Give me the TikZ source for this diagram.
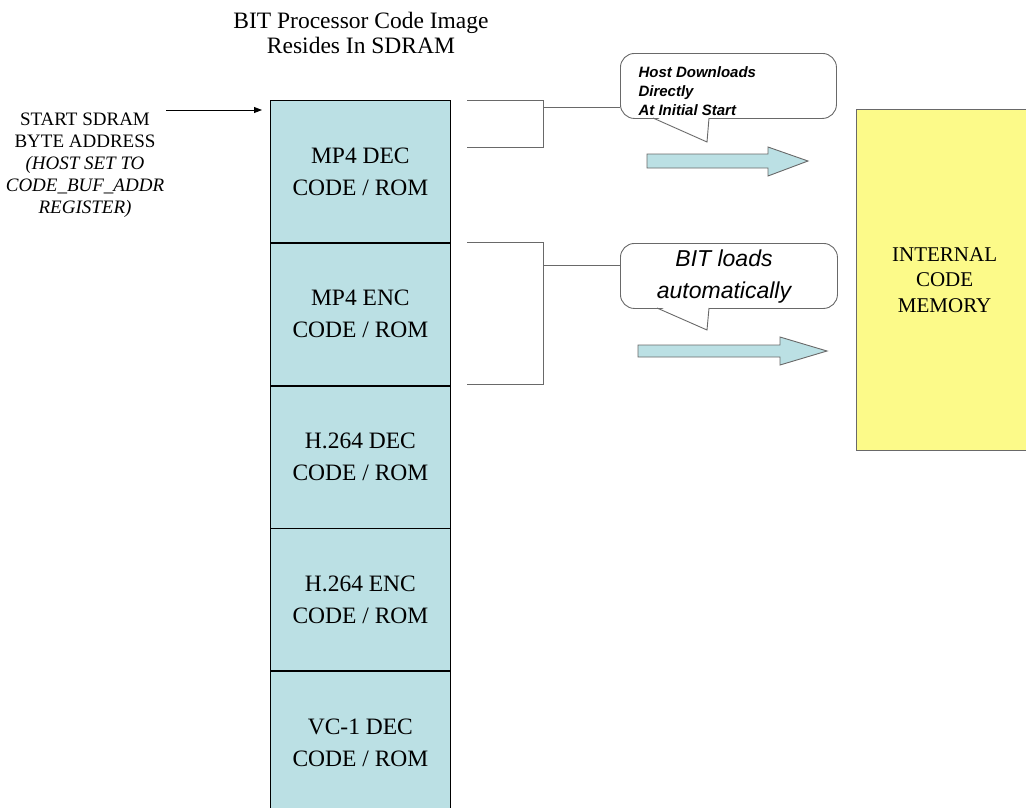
\documentclass[tikz,border=0pt]{standalone}
\usepackage{fontspec}
\setmainfont{Liberation Serif}
\newfontfamily\calloutfont{Liberation Sans}
\usetikzlibrary{arrows.meta}
\definecolor{stackfill}{RGB}{187,224,228}
\definecolor{memfill}{RGB}{252,250,137}
\definecolor{linegray}{RGB}{105,105,105}
\begin{document}
\begin{tikzpicture}[x=1pt,y=-1pt,
  section/.style={draw=black, line width=0.8pt, fill=stackfill, minimum width=180pt,
    minimum height=142pt, anchor=north west, inner sep=0pt, align=center,
    font=\fontsize{23.5}{32}\selectfont},
  bracketline/.style={draw=linegray, line width=0.9pt},
  calloutbody/.style={draw=linegray, line width=0.9pt, fill=white, rounded corners=14pt,
    inner sep=0pt, anchor=north west},
  blockarrow/.style={draw=linegray, line width=0.9pt, fill=stackfill},
  memory/.style={draw=linegray, line width=1.2pt, fill=memfill, anchor=north west,
    minimum width=176pt, minimum height=341pt, inner sep=0pt, align=center,
    font=\fontsize{21}{25.5}\selectfont}]
\useasboundingbox (0,0) rectangle (1026,807);

% title
\node[align=center, font=\fontsize{23.5}{25}\selectfont] (title) at (361,33)
  {BIT Processor Code Image\\Resides In SDRAM};

% stack
\node[section] (s1) at (270,100) {MP4 DEC\\CODE / ROM};
\node[section] (s2) at (s1.south west) {MP4 ENC\\CODE / ROM};
\node[section] (s3) at (s2.south west) {H.264 DEC\\CODE / ROM};
\node[section] (s4) at (s3.south west) {H.264 ENC\\CODE / ROM};
\node[section] (s5) at (s4.south west) {VC-1 DEC\\CODE / ROM};

% left label
\node[align=center, font=\fontsize{19}{22}\selectfont] (start) at (85,165)
  {START SDRAM\\BYTE ADDRESS\\\textit{(HOST SET TO}\\\textit{CODE\_BUF\_ADDR}\\\textit{REGISTER)}};
\coordinate (st) at (166,110);
\coordinate (stend) at (262,110);
\draw[line width=0.9pt, -{Triangle[length=8pt,width=6pt]}] (st) -- (stend);

% callout 1
\node[calloutbody, minimum width=216pt, minimum height=65pt] (cb1) at (620,53) {};
\fill[white] (654,116) -- (707,142) -- (709,116) -- cycle;
\draw[linegray, line width=0.9pt] (653,118) -- (707,142) -- (709,118);
\node[anchor=west, align=left, font=\calloutfont\bfseries\itshape\fontsize{15}{19}\selectfont]
  (t1) at (635,91) {Host Downloads\\Directly\\At Initial Start};

% bracket 1
\coordinate (b1a) at (467,100);
\coordinate (b1b) at (543,100);
\coordinate (b1c) at (543,147);
\coordinate (b1d) at (467,147);
\coordinate (b1m) at (543,107);
\draw[bracketline] (b1a) -- (b1b) -- (b1c) -- (b1d);
\draw[bracketline] (b1m) -- (b1m -| cb1.west);

% arrow 1
\draw[blockarrow] (647,154) -- (768,154) -- (768,147) -- (808,161) -- (768,176)
  -- (768,168) -- (647,168) -- cycle;

% callout 2
\node[calloutbody, minimum width=217pt, minimum height=65pt] (cb2) at (620,243) {};
\fill[white] (658,306) -- (707,330) -- (709,306) -- cycle;
\draw[linegray, line width=0.9pt] (657,308) -- (707,330) -- (709,308);
\node[align=center, font=\calloutfont\itshape\fontsize{23}{32}\selectfont]
  (t2) at (724,277) {BIT loads\\automatically};

% bracket 2
\coordinate (b2a) at (467,242);
\coordinate (b2b) at (543,242);
\coordinate (b2c) at (543,384);
\coordinate (b2d) at (467,384);
\coordinate (b2m) at (543,265);
\draw[bracketline] (b2a) -- (b2b) -- (b2c) -- (b2d);
\draw[bracketline] (b2m) -- (b2m -| cb2.west);

% arrow 2
\draw[blockarrow] (638,345) -- (780,345) -- (780,337) -- (827,351) -- (780,365)
  -- (780,357) -- (638,357) -- cycle;

% internal code memory
\node[memory] (mem) at (856,109) {INTERNAL\\CODE\\MEMORY};
\end{tikzpicture}
\end{document}
